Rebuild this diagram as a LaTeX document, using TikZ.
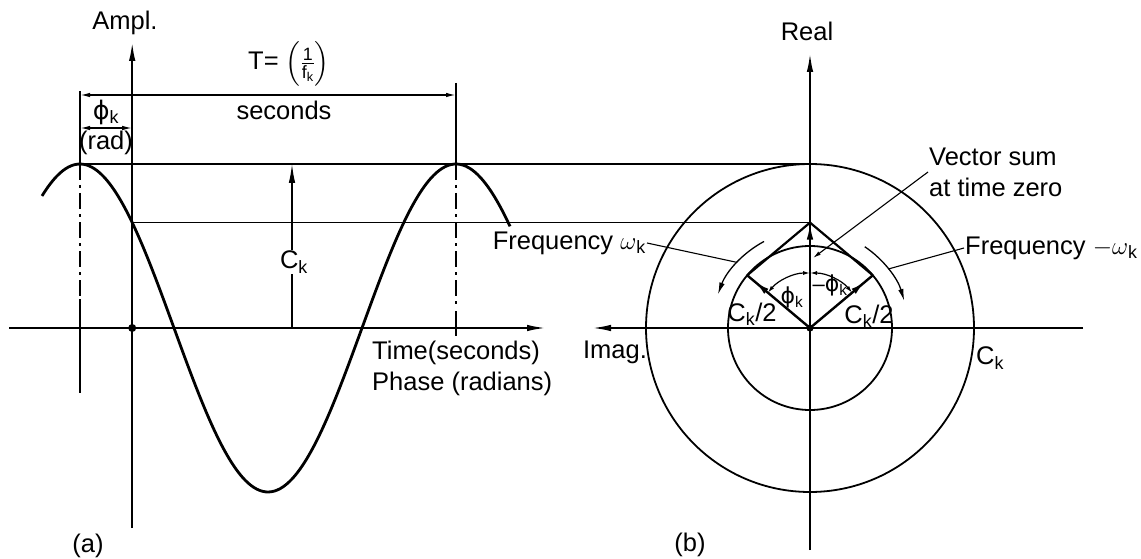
\documentclass[tikz,border=0pt]{standalone}
\usepackage{fontspec}
\usepackage{amsmath}
\setmainfont{Liberation Sans}
\newfontfamily\dejavu{DejaVu Sans}
\usetikzlibrary{arrows.meta,calc,decorations.markings}
\newcommand{\sk}{\textsubscript{k}}
\newcommand{\myphi}{{\dejavu ϕ}}
\begin{document}
\begin{tikzpicture}[x=1pt,y=-1pt,
  lbl/.style={font=\fontsize{25.5}{31}\selectfont, inner sep=1pt},
  smlbl/.style={font=\fontsize{22}{26}\selectfont, inner sep=0.5pt},
  thinl/.style={line width=1.3pt},
  axisl/.style={line width=2pt},
  big/.style={-{Latex[length=19pt,width=6.5pt]}},
  dimarr/.style={line width=1.4pt,{Latex[length=10pt,width=4.5pt]}-{Latex[length=10pt,width=4.5pt]}},
  cl/.style={line width=1.4pt, dash pattern=on 16pt off 5pt on 3pt off 5pt},
  vec/.style={line width=2.4pt, postaction={decorate}, decoration={markings, mark=at position 0.88 with {\arrow{Latex[length=15pt,width=6.5pt]}}}},
  rot/.style={line width=1.3pt, -{Latex[length=12pt,width=5.5pt]}},
  phiarr/.style={line width=1.2pt, {Latex[length=7pt,width=4pt]}-{Latex[length=7pt,width=4pt]}},
  leader/.style={line width=1.1pt}
]
\useasboundingbox (0,0) rectangle (1141,559);

% ---------- key points ----------
\coordinate (O) at (810,328);
\coordinate (Lpk) at (80,164);
\coordinate (Rpk) at (456,164);
\coordinate (Ax) at (132.2,222.6);
\coordinate (CT) at (810,164);
\coordinate (S) at (810,222.6);
\coordinate (TL) at ($(O)+(140:82pt)$);
\coordinate (TR) at ($(O)+(40:82pt)$);

% ---------- panel (a) ----------
\draw[line width=2.8pt] plot[domain=42:510, samples=160, smooth] (\x, {328-164*cos((\x-80)/376*360)});

\draw[thinl] (Lpk) -- (CT);
\draw[thinl] (Ax) -- (S);

\coordinate (ha0) at (9,328);
\coordinate (ha1) at (546,328);
\draw[axisl, big] (ha0) -- (ha1);
\coordinate (va0) at (132.2,528);
\coordinate (va1) at (132.2,42);
\draw[axisl, big] (va0) -- (va1);
\fill (132.2,328) circle (4pt);

% centre lines through the peaks
\coordinate (l0) at (80,91);
\coordinate (l1) at (80,296);
\coordinate (l2) at (80,299);
\coordinate (l3) at (80,393);
\draw[thinl] (l0) -- (Lpk);
\draw[cl] (Lpk) -- (l1);
\draw[thinl] (l2) -- (l3);
\coordinate (r0) at (456,83);
\coordinate (r1) at (456,308);
\coordinate (r2) at (456,311);
\coordinate (r3) at (456,336);
\draw[thinl] (r0) -- (Rpk);
\draw[cl] (Rpk) -- (r1);
\draw[thinl] (r2) -- (r3);

% dimensions
\coordinate (d0) at (80,95);
\coordinate (d1) at (456,95);
\draw[dimarr] (d0) -- (d1);
\coordinate (p0) at (80,128);
\coordinate (p1) at (132.2,128);
\draw[dimarr] (p0) -- (p1);

\node[lbl] (tf) at (289,64) {T= $\left(\rule[-17pt]{0pt}{42pt}\frac{\text{1}}{\text{f}_{\text{k}}}\right)$};
\node[lbl] (sec) at (284,110) {seconds};
\node[lbl] (phl) at (106,112) {\myphi\sk};
\node[lbl] (rad) at (106,143) {(rad)};
\node[lbl] (ampl) at (125,23) {Ampl.};

% C_k arrow
\node[lbl] (ckl) at (294,262) {C\sk};
\coordinate (cka) at (292,328);
\coordinate (ckb) at (292,164);
\draw[thinl] (cka) -- (cka |- ckl.south);
\draw[thinl, big] (cka |- ckl.north) -- (ckb);

\node[lbl, anchor=west] (tsec) at (371,353) {Time(seconds)};
\node[lbl, anchor=west] (phr) at (371,384) {Phase (radians)};
\node[lbl] (la) at (88,546) {(a)};

% ---------- panel (b) ----------
\draw[line width=1.8pt] (O) circle[radius=164pt];
\draw[line width=1.8pt] (O) circle[radius=82pt];

\coordinate (ia0) at (1083,328);
\coordinate (ia1) at (592,328);
\draw[axisl, big] (ia0) -- (ia1);
\coordinate (ra0) at (810,550);
\coordinate (ra1) at (810,53);
\draw[axisl, big] (ra0) -- (ra1);

\draw[vec] (O) -- (TL);
\draw[vec] (O) -- (TR);
\draw[line width=2.2pt] (TL) -- (S) -- (TR);
\draw[line width=2.4pt, -{Latex[length=17pt,width=6.5pt]}] (O) -- (S);
\fill (O) circle (3.6pt);

% phase arcs
\coordinate (pa) at ($(O)+(90:55pt)$);
\draw[phiarr] (pa) arc[start angle=90, end angle=140, radius=55pt];
\draw[phiarr] (pa) arc[start angle=90, end angle=40, radius=55pt];

% rotation arrows
\coordinate (rl0) at ($(O)+(118:98pt)$);
\coordinate (rr0) at ($(O)+(56:98pt)$);
\draw[rot] (rl0) arc[start angle=118, end angle=160, radius=98pt];
\draw[rot] (rr0) arc[start angle=56, end angle=16, radius=98pt];

% labels
\node[lbl] (real) at (807,31) {Real};
\node[lbl] (imag) at (615,352) {Imag.};
\node[lbl] (ckr) at (990,358) {C\sk};
\node[lbl] (lb) at (690,545) {(b)};
\node[lbl] (ckh1) at (752,314) {C\sk/2};
\node[lbl] (ckh2) at (869,316) {C\sk/2};
\node[smlbl] (phi1) at (792,297) {\myphi\sk};
\node[smlbl, anchor=west] (phi2) at (812,285) {–\myphi\sk};

\node[lbl, align=left, anchor=west] (vs) at (928,172) {Vector sum\\at time zero};
\coordinate (vse) at (813,258);
\draw[leader, -{Latex[length=8pt,width=4pt]}] (vs.west) -- (vse);

\node[lbl, anchor=east] (fw) at (647,243) {Frequency $\omega$\sk};
\coordinate (lw) at ($(O)+(138:98pt)$);
\draw[leader] (fw.east) -- (lw);
\node[lbl, anchor=west] (fmw) at (964,248) {Frequency $-\omega$\sk};
\coordinate (rw) at ($(O)+(37:98pt)$);
\draw[leader] (fmw.west) -- (rw);
\end{tikzpicture}
\end{document}
